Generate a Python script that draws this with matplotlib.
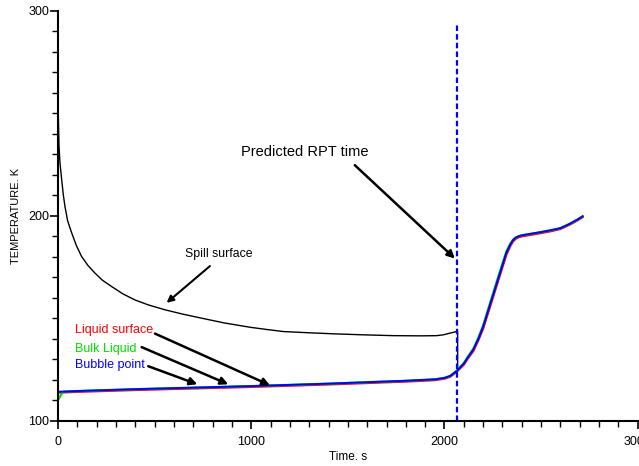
import matplotlib
matplotlib.use("Agg")
import matplotlib.pyplot as plt
from matplotlib.ticker import MultipleLocator

plt.rcParams['font.family'] = ['Liberation Sans', 'DejaVu Sans']

# spill surface temperature (K) vs time (s)
t_spill = [0, 2, 5, 10, 19, 27, 36, 50, 71, 95, 122, 155, 191, 230, 278, 335, 398,
           470, 554, 645, 744, 860, 993, 1080, 1166, 1300, 1424, 1580, 1735, 1880,
           1960, 1994, 2015, 2040, 2068, 2068]
T_spill = [259, 247, 234, 226, 217.6, 210.5, 204.5, 197.5, 191.6, 185.5, 180.2,
           175.8, 172.1, 168.6, 165.5, 162.0, 159.0, 156.5, 154.2, 152.1, 150.1,
           147.8, 145.7, 144.6, 143.6, 143.0, 142.5, 142.0, 141.6, 141.5, 141.6,
           142.0, 142.5, 143.1, 143.7, 124.8]

# liquid temperatures
t_liq = [0, 25, 100, 200, 400, 600, 800, 1000, 1200, 1400, 1600, 1800, 1950, 2000,
         2030, 2065, 2080, 2100, 2120, 2150, 2175, 2200, 2225, 2250, 2275, 2300,
         2320, 2340, 2355, 2370, 2385, 2400, 2450, 2500, 2550, 2600, 2650, 2690, 2715]
T_surface = [113.9, 113.9, 114.2, 114.5, 115.1, 115.6, 116.1, 116.6, 117.2, 117.8,
             118.5, 119.2, 119.9, 120.6, 121.6, 124.1, 125.6, 127.4, 130.4, 134.2,
             139.3, 145.0, 152.5, 160.0, 167.5, 175.0, 181.0, 185.2, 187.6, 188.9,
             189.6, 190.0, 190.8, 191.6, 192.5, 193.6, 195.8, 197.9, 199.4]
T_bulk = [110.2, 114.3, 114.6, 114.9, 115.5, 116.0, 116.5, 117.0, 117.6, 118.2,
          118.9, 119.6, 120.3, 121.0, 122.0, 124.6, 126.3, 128.2, 131.3, 135.3,
          140.6, 146.6, 154.3, 161.8, 169.4, 176.8, 182.6, 186.3, 188.4, 189.5,
          190.1, 190.5, 191.3, 192.1, 193.0, 194.0, 196.2, 198.3, 199.8]
T_bubble = [114.3, 114.3, 114.6, 114.9, 115.5, 116.0, 116.5, 117.0, 117.6, 118.2,
            118.9, 119.6, 120.3, 121.0, 122.0, 124.5, 126.0, 128.0, 130.8, 135.0,
            140.0, 146.0, 153.5, 161.0, 168.5, 176.0, 182.0, 186.0, 188.2, 189.5,
            190.1, 190.5, 191.3, 192.1, 193.0, 194.0, 196.2, 198.3, 199.8]

t_rpt = 2065

fig = plt.figure(figsize=(6.39, 4.66), dpi=100)
ax = fig.add_axes([0.0908, 0.0966, 0.9072, 0.8804])

ax.plot(t_spill, T_spill, color='black', lw=1.0)
ax.plot(t_liq, T_surface, color='#ff0000', lw=1.6)
ax.plot(t_liq, T_bulk, color='#00dd00', lw=1.6)
ax.plot(t_liq, T_bubble, color='#0000ff', lw=1.4)
ax.plot([t_rpt, t_rpt], [100, 293], color='#0000ff', lw=1.6, ls=(0, (2.5, 1.4)))

ax.set_xlim(0, 3000)
ax.set_ylim(100, 300)
ax.xaxis.set_major_locator(MultipleLocator(1000))
ax.xaxis.set_minor_locator(MultipleLocator(100))
ax.yaxis.set_major_locator(MultipleLocator(100))
ax.yaxis.set_minor_locator(MultipleLocator(10))

for side in ['top', 'right']:
    ax.spines[side].set_visible(False)
for side in ['left', 'bottom']:
    ax.spines[side].set_linewidth(1.5)

ax.tick_params(axis='both', which='major', length=6, width=1.2, labelsize=9)
ax.tick_params(axis='both', which='minor', length=4, width=1.0)
ax.tick_params(axis='x', which='major', pad=5)
ax.tick_params(axis='y', which='major', pad=0.5)

ax.set_xlabel('Time. s', fontsize=8.5, labelpad=2)
ax.set_ylabel('TEMPERATURE. K', fontsize=8, labelpad=5)

arrow = dict(arrowstyle='-|>', color='black', lw=1.8, mutation_scale=11,
             shrinkA=0, shrinkB=0)

ax.text(947, 231.1, 'Predicted RPT time', fontsize=10.5, ha='left', va='center')
ax.annotate('', xy=(2054, 179.2), xytext=(1536, 224.7), arrowprops=arrow)

ax.text(657, 181.6, 'Spill surface', fontsize=8.8, ha='left', va='center')
ax.annotate('', xy=(562, 157.6), xytext=(786, 175.5),
            arrowprops=dict(arrow, lw=1.5, mutation_scale=10))

ax.text(88, 144.2, 'Liquid surface', fontsize=9, color='#ff0000', ha='left', va='center')
ax.text(88, 135.0, 'Bulk Liquid', fontsize=9, color='#00dd00', ha='left', va='center')
ax.text(88, 127.5, 'Bubble point', fontsize=9, color='#0000ff', ha='left', va='center')

ax.annotate('', xy=(1097, 117.4), xytext=(502, 142.6), arrowprops=arrow)
ax.annotate('', xy=(881, 117.9), xytext=(433, 136.0), arrowprops=arrow)
ax.annotate('', xy=(721, 117.9), xytext=(467, 126.7), arrowprops=arrow)

fig.savefig('out.png', dpi=100)
